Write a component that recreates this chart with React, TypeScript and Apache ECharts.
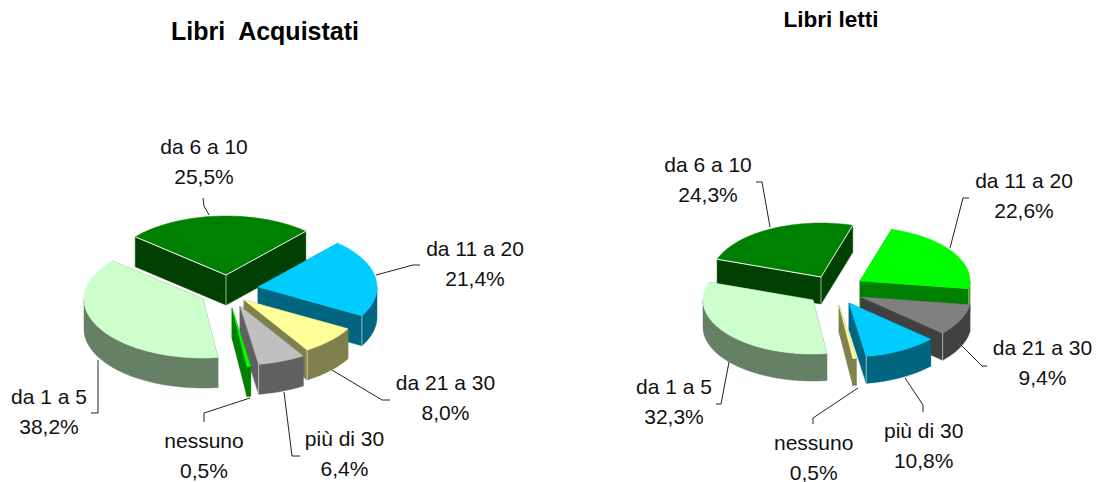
import React, { useEffect, useRef } from "react";
import * as echarts from "echarts";

const categories = ["nessuno", "da 1 a 5", "da 6 a 10", "da 11 a 20", "da 21 a 30", "più di 30"];
const acquistatiValues = [0.5, 38.2, 25.5, 21.4, 8.0, 6.4];
const lettiValues = [0.5, 32.3, 24.3, 22.6, 9.4, 10.8];
const titles = ["Libri  Acquistati", "Libri letti"];

const FONT = '"Liberation Sans", Arial, sans-serif';
const GREEN = ["#00FF00", "#008000"];
const LIGHT = ["#CCFFCC", "#668066"];
const DARK = ["#008000", "#004000"];
const CYAN = ["#00CCFF", "#006680"];
const YELLOW = ["#FFFF99", "#80804D"];
const SILVER = ["#C0C0C0", "#606060"];
const GREY = ["#808080", "#404040"];

type Pt = number[];
interface PieLayout {
  values: number[];
  start: number;
  centre: Pt;
  rx: number;
  ry: number;
  depth: number;
  explode: Pt[];
  colors: string[][];
  order: number[];
  labels: Pt[];
  leaders: Pt[][];
}

const left: PieLayout = {
  values: acquistatiValues,
  start: 171,
  centre: [240, 300],
  rx: 119,
  ry: 59,
  depth: 30,
  explode: [[-8, 8], [-37, -1], [-14, -25], [18, -13], [4, 0], [0, 6]],
  colors: [GREEN, LIGHT, DARK, CYAN, YELLOW, SILVER],
  order: [2, 3, 1, 4, 5, 0],
  labels: [[204, 441], [49, 397], [204, 147], [475, 249], [445.5, 383], [344.5, 439]],
  leaders: [
    [[250, 398], [204, 413], [204, 422]],
    [[98, 360], [98, 413], [91, 413]],
    [[203, 198], [204, 206], [209, 215]],
    [[376, 275], [413, 265], [420, 265]],
    [[332, 370], [382, 400], [390, 400]],
    [[284, 392], [292, 456], [300, 456]],
  ],
};

const right: PieLayout = {
  values: lettiValues,
  start: 171,
  centre: [840, 295],
  rx: 110,
  ry: 54,
  depth: 27,
  explode: [[-1, 10], [-27, 5], [-19, -18], [20, -14], [21, 2], [9, 8]],
  colors: [YELLOW, LIGHT, DARK, GREEN, GREY, CYAN],
  order: [2, 3, 4, 1, 5, 0],
  labels: [[813.7, 443], [674, 387], [708, 165], [1024, 181], [1042.5, 348], [923.7, 431]],
  leaders: [
    [[858, 388], [813, 418], [813, 424]],
    [[729, 362], [721, 404], [716, 404]],
    [[756, 182], [762, 182], [770, 227]],
    [[969, 198], [963, 198], [950, 248]],
    [[962, 346], [982, 366], [987, 366]],
    [[905, 378], [923, 405], [923, 412]],
  ],
};

function sliceAngles(values: number[], start: number): number[][] {
  const total = values.reduce((a, b) => a + b, 0);
  let a = start;
  return values.map((v) => {
    const s = a;
    a += (v / total) * 360;
    return [s, a];
  });
}

function arc(apex: Pt, p: PieLayout, t0: number, t1: number, dy = 0): Pt[] {
  const pts: Pt[] = [];
  const n = Math.max(2, Math.ceil(Math.abs(t1 - t0) / 2));
  for (let i = 0; i <= n; i++) {
    const t = ((t0 + ((t1 - t0) * i) / n) * Math.PI) / 180;
    pts.push([apex[0] + p.rx * Math.sin(t), apex[1] - p.ry * Math.cos(t) + dy]);
  }
  return pts;
}

function pieSeries(p: PieLayout) {
  const angles = sliceAngles(p.values, p.start);
  return {
    type: "custom",
    coordinateSystem: "none",
    silent: true,
    data: p.order.map((i) => [p.values[i], i]),
    renderItem(_params: any, api: any) {
      const idx = api.value(1);
      const [t0, t1] = angles[idx];
      const [top, side] = p.colors[idx];
      const apex = [p.centre[0] + p.explode[idx][0], p.centre[1] + p.explode[idx][1]];
      const topArc = arc(apex, p, t0, t1);
      const first = topArc[0];
      const last = topArc[topArc.length - 1];
      const d = p.depth;
      const down = (q: Pt) => [q[0], q[1] + d];
      const poly = (points: Pt[], fill: string) => ({
        type: "polygon",
        shape: { points },
        style: { fill, stroke: fill, lineWidth: 0.5 },
      });
      const children: any[] = [
        poly([apex, first, down(first), down(apex)], side),
        poly([apex, last, down(last), down(apex)], side),
      ];
      // the outer rim is only visible on the front half of the ellipse
      for (const offset of [0, 360]) {
        const a = Math.max(t0, 90 + offset);
        const b = Math.min(t1, 270 + offset);
        if (b > a) {
          const upper = arc(apex, p, a, b);
          const lower = arc(apex, p, a, b, d).reverse();
          children.push(poly([...upper, ...lower], side));
        }
      }
      children.push(poly([apex, ...topArc], top));
      const edge = (a: Pt, b: Pt, opacity: number) => ({
        type: "line",
        shape: { x1: a[0], y1: a[1], x2: b[0], y2: b[1] },
        style: { stroke: "#fff", lineWidth: 1, opacity },
      });
      const wrapsFront = t0 < 360 && t1 > 360;
      if (wrapsFront) {
        children.push(edge(apex, down(apex), 0.6));
        children.push(edge(apex, first, 1));
        children.push(edge(apex, last, 0.9));
      }
      const endNorm = t1 % 360;
      if (endNorm > 90 && endNorm < 270 && t1 - t0 > 5) {
        children.push(edge(last, down(last), 0.55));
      }
      return { type: "group", children };
    },
  };
}

function labelGraphics(p: PieLayout) {
  const out: any[] = [];
  categories.forEach((name, i) => {
    const [x, y] = p.labels[i];
    const pct = p.values[i].toFixed(1).replace(".", ",") + "%";
    [name, pct].forEach((text, k) => {
      out.push({
        type: "text",
        silent: true,
        style: {
          text,
          x,
          y: y - 1 + k * 30,
          fill: "#111",
          fontSize: 21,
          fontFamily: FONT,
          textAlign: "center",
          textVerticalAlign: "middle",
        },
      });
    });
    out.push({
      type: "polyline",
      silent: true,
      shape: { points: p.leaders[i] },
      style: { stroke: "#222", lineWidth: 1, fill: "none" },
    });
  });
  return out;
}

export default function App() {
  const ref = useRef<HTMLDivElement>(null);
  useEffect(() => {
    document.body.style.margin = "0";
    const chart = echarts.init(ref.current!, undefined, { renderer: "svg" });
    chart.setOption({
      animation: false,
      backgroundColor: "#fff",
      title: [
        {
          text: titles[0],
          left: 260,
          top: 13,
          textAlign: "center",
          textStyle: { fontSize: 25, fontWeight: "bold", fontFamily: FONT, color: "#000" },
        },
        {
          text: titles[1],
          left: 826,
          top: 3,
          textAlign: "center",
          textStyle: { fontSize: 22.5, fontWeight: "bold", fontFamily: FONT, color: "#000" },
        },
      ],
      series: [pieSeries(left), pieSeries(right)],
      graphic: { elements: [...labelGraphics(left), ...labelGraphics(right)] },
    });
    return () => chart.dispose();
  }, []);
  return <div ref={ref} style={{ width: 1096, height: 482 }} />;
}
